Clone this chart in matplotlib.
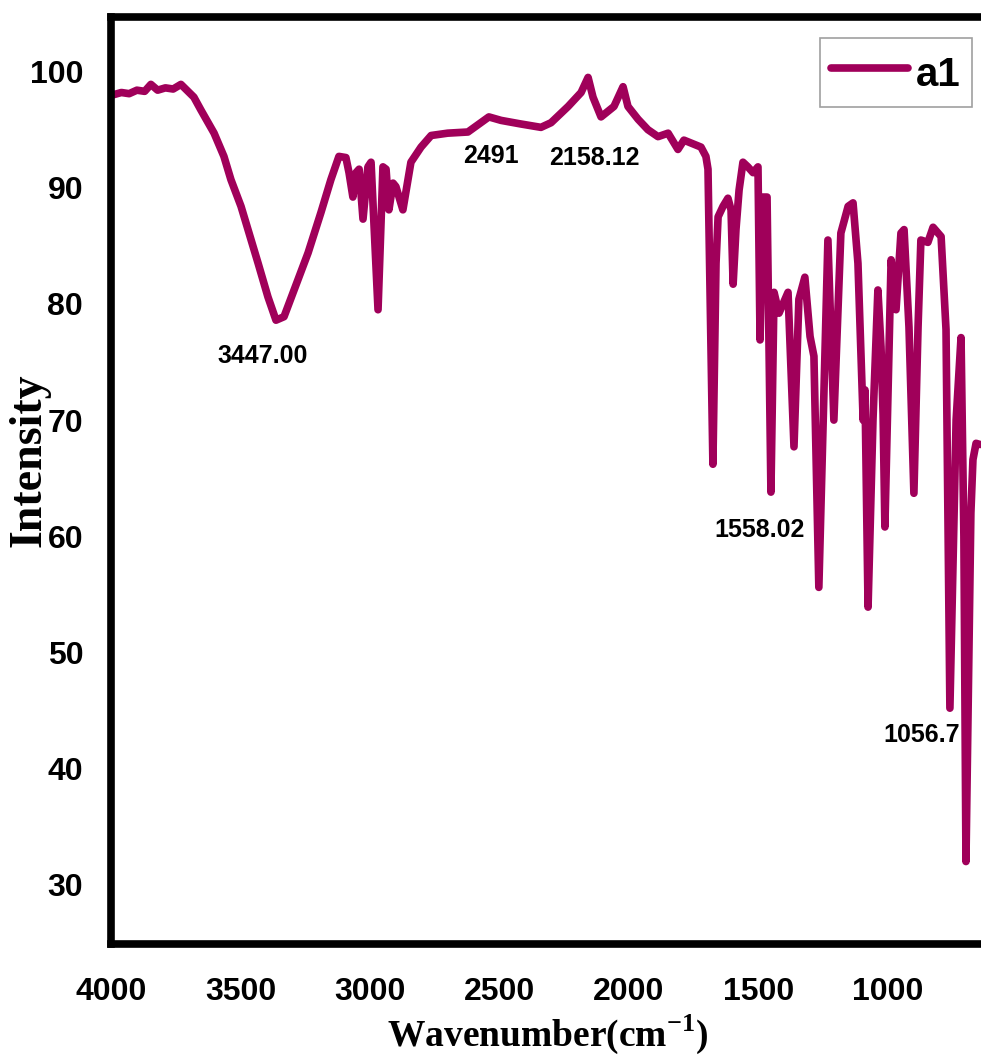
import matplotlib
matplotlib.use('Agg')
import matplotlib.pyplot as plt

# --- data ---
wavenumber = [3992, 3960, 3930, 3900, 3870, 3846, 3820, 3790, 3760, 3730,
              3680, 3653, 3602, 3564, 3537, 3498, 3471, 3432, 3394, 3363,
              3332, 3293, 3239, 3189, 3151, 3120, 3093, 3081, 3066, 3054,
              3042, 3027, 3008, 2996, 2969, 2950, 2938, 2927, 2911, 2900,
              2873, 2842, 2803, 2764, 2700, 2622, 2541, 2494, 2420, 2367,
              2340, 2301, 2235, 2185, 2158, 2139, 2108, 2058, 2023, 2004,
              1965, 1927, 1888, 1849, 1811, 1788, 1722, 1703, 1695, 1676,
              1664, 1656, 1637, 1618, 1606, 1598, 1587, 1575, 1560, 1541,
              1521, 1502, 1494, 1483, 1467, 1452, 1440, 1421, 1386, 1363,
              1344, 1321, 1301, 1286, 1267, 1232, 1209, 1182, 1154, 1135,
              1116, 1096, 1089, 1077, 1058, 1039, 1027, 1019, 1012, 996,
              988, 969, 950, 938, 919, 900, 884, 873, 846, 826,
              795, 776, 761, 737, 718, 707, 699, 680, 672, 660, 645]
intensity = [98.0, 98.2, 98.1, 98.4, 98.3, 98.9, 98.4, 98.6, 98.5, 98.9,
             97.8, 96.7, 94.7, 92.7, 90.7, 88.4, 86.4, 83.5, 80.6, 78.6,
             78.9, 81.2, 84.4, 87.9, 90.7, 92.7, 92.6, 91.3, 89.2, 91.3,
             91.6, 87.3, 91.8, 92.2, 79.5, 91.8, 91.6, 88.1, 90.4, 90.1,
             88.1, 92.2, 93.5, 94.5, 94.7, 94.8, 96.1, 95.8, 95.5, 95.3,
             95.2, 95.6, 97.0, 98.2, 99.5, 97.8, 96.1, 97.0, 98.7, 97.0,
             95.9, 95.0, 94.4, 94.7, 93.3, 94.1, 93.5, 92.7, 91.6, 66.2,
             83.5, 87.5, 88.4, 89.1, 88.1, 81.7, 86.4, 89.8, 92.2, 91.8,
             91.3, 91.8, 76.9, 89.2, 89.2, 63.8, 81.0, 79.2, 81.0, 67.7,
             80.4, 82.3, 77.2, 75.5, 55.6, 85.5, 70.0, 86.1, 88.4, 88.7,
             83.5, 70.0, 72.6, 53.9, 70.0, 81.2, 76.3, 70.5, 60.8, 76.0,
             83.8, 79.5, 86.1, 86.4, 78.0, 63.7, 78.0, 85.5, 85.3, 86.6,
             85.8, 77.8, 45.2, 70.0, 77.1, 60.0, 32.0, 62.0, 66.6, 68.0, 67.9]

peak_labels = ['3447.00', '2491', '2158.12', '1558.02', '1056.7']
label_x = [3413, 2533, 2135, 1494, 869]
label_y = [75.5, 92.7, 92.6, 60.5, 42.9]

x_ticks = [4000, 3500, 3000, 2500, 2000, 1500, 1000]
y_ticks = [30, 40, 50, 60, 70, 80, 90, 100]

line_color = '#A0005A'
sans = 'Liberation Sans'
serif = 'Liberation Serif'

plt.rcParams['mathtext.fontset'] = 'custom'
plt.rcParams['mathtext.rm'] = 'Liberation Serif:bold'
plt.rcParams['mathtext.bf'] = 'Liberation Serif:bold'

W, H = 981, 1061
fig = plt.figure(figsize=(W / 100, H / 100), dpi=100)
left_px, right_px, top_px, bot_px = 111, 991.6, 17, 944
ax = fig.add_axes([left_px / W, 1 - bot_px / H,
                   (right_px - left_px) / W, (bot_px - top_px) / H])

ax.plot(wavenumber, intensity, color=line_color, lw=5.5, label='a1',
        solid_joinstyle='round', solid_capstyle='round')

ax.set_xlim(4000, 600)
ax.set_ylim(24.9, 104.7)
ax.set_xticks(x_ticks)
ax.set_yticks(y_ticks)
ax.tick_params(length=0, labelsize=23)
ax.tick_params(axis='x', pad=24)
ax.tick_params(axis='y', pad=20)
for lab in ax.get_xticklabels() + ax.get_yticklabels():
    lab.set_fontfamily(sans)
    lab.set_fontweight('bold')
for sp in ax.spines.values():
    sp.set_linewidth(5.5)

for txt, xx, yy in zip(peak_labels, label_x, label_y):
    ax.text(xx, yy, txt, ha='center', va='center', fontsize=18,
            fontweight='bold', family=sans)

fig.text(548 / W, 1 - 1034 / H, 'Wavenumber(cm$^{\\mathrm{-1}}$)', ha='center',
         va='center', fontsize=27, fontweight='bold', family=serif)
fig.text(30 / W, 1 - 460 / H, 'Intensity', ha='center', va='center', rotation=90,
         fontsize=33, fontweight='bold', family=serif)

leg = ax.legend(loc='upper right', bbox_to_anchor=(972 / W, 1 - 38 / H),
                bbox_transform=fig.transFigure, borderaxespad=0,
                prop={'family': sans, 'weight': 'bold', 'size': 29},
                handlelength=1.9, handleheight=1.4, handletextpad=0.2,
                borderpad=0.28, fancybox=False, frameon=True)
leg.get_frame().set_edgecolor('#888888')
leg.get_frame().set_linewidth(1.2)

fig.savefig('out.png', dpi=100)
